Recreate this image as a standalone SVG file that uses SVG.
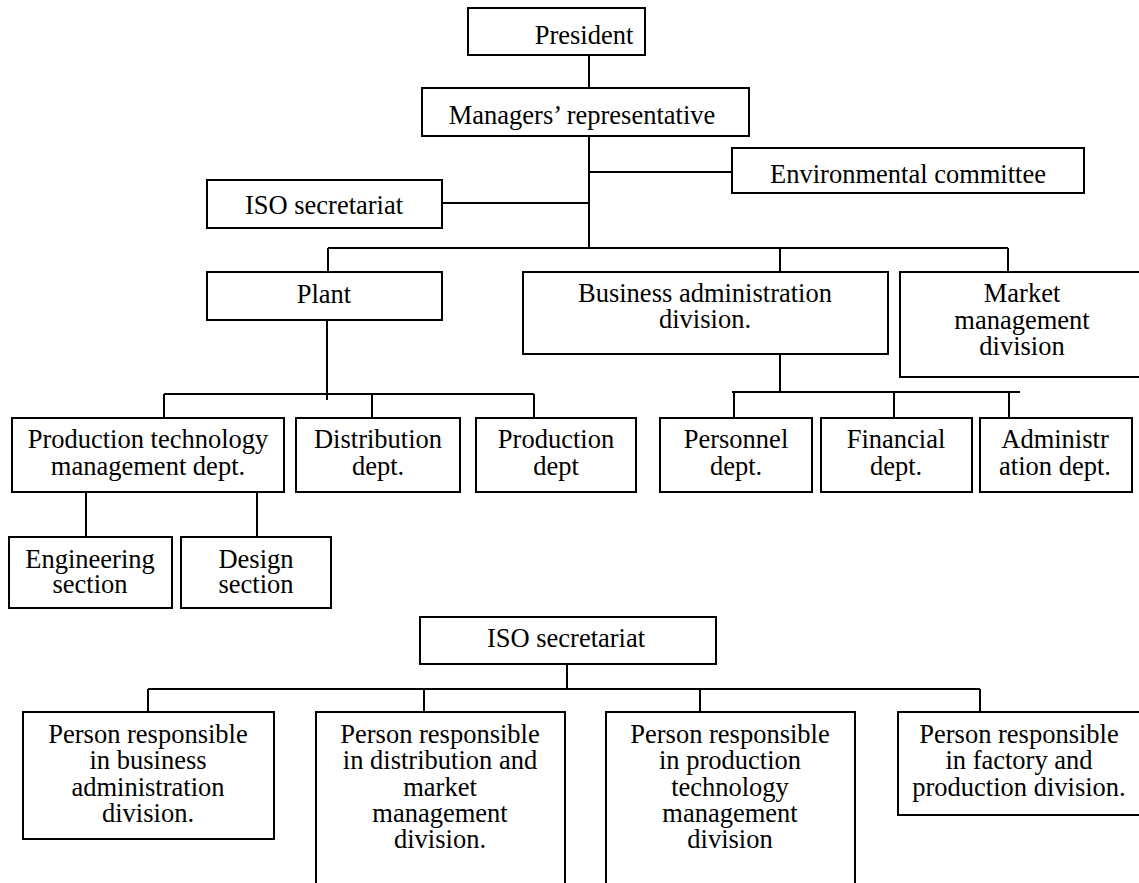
<svg xmlns="http://www.w3.org/2000/svg" width="1139" height="883" viewBox="0 0 1139 883">
<style>
rect{fill:#fff;stroke:#000;stroke-width:2}
.c line{stroke:#000;stroke-width:2;fill:none}
text{font-family:'Liberation Serif','DejaVu Serif',serif;font-size:26.5px;text-anchor:middle;fill:#000}
</style>
<rect x="0" y="0" width="1139" height="883" style="stroke:none"/>
<g class="c" id="connectors">
<line x1="589" y1="55" x2="589" y2="88"/>
<line x1="589" y1="136" x2="589" y2="248"/>
<line x1="589" y1="172" x2="732" y2="172"/>
<line x1="442" y1="203" x2="589" y2="203"/>
<line x1="328" y1="248" x2="1008" y2="248"/>
<line x1="328" y1="248" x2="328" y2="272"/>
<line x1="780" y1="248" x2="780" y2="272"/>
<line x1="1008" y1="248" x2="1008" y2="272"/>
<line x1="327" y1="320" x2="327" y2="400"/>
<line x1="164" y1="394" x2="534" y2="394"/>
<line x1="164" y1="394" x2="164" y2="418"/>
<line x1="372" y1="394" x2="372" y2="418"/>
<line x1="534" y1="394" x2="534" y2="418"/>
<line x1="86" y1="492" x2="86" y2="537"/>
<line x1="257" y1="492" x2="257" y2="537"/>
<line x1="780" y1="354" x2="780" y2="392"/>
<line x1="732" y1="392" x2="1020" y2="392"/>
<line x1="734" y1="392" x2="734" y2="418"/>
<line x1="894" y1="392" x2="894" y2="418"/>
<line x1="1009" y1="392" x2="1009" y2="418"/>
<line x1="567" y1="664" x2="567" y2="689"/>
<line x1="148" y1="689" x2="980" y2="689"/>
<line x1="148" y1="689" x2="148" y2="712"/>
<line x1="424" y1="689" x2="424" y2="712"/>
<line x1="700" y1="689" x2="700" y2="712"/>
<line x1="980" y1="689" x2="980" y2="712"/>
</g>
<g id="president"><rect x="468" y="8" width="177" height="47"/><text x="584" y="44">President</text></g>
<g id="managers"><rect x="422" y="88" width="327" height="48"/><text x="582" y="124">Managers’ representative</text></g>
<g id="env"><rect x="732" y="148" width="352" height="45"/><text x="908" y="183">Environmental committee</text></g>
<g id="iso-top"><rect x="207" y="180" width="235" height="48"/><text x="324" y="214">ISO secretariat</text></g>
<g id="plant"><rect x="207" y="272" width="235" height="48"/><text x="324" y="303">Plant</text></g>
<g id="business"><rect x="523" y="272" width="365" height="82"/><text x="705" y="302">Business administration</text><text x="705" y="328">division.</text></g>
<g id="market"><rect x="900" y="272" width="245" height="105"/><text x="1022" y="302">Market</text><text x="1022" y="329">management</text><text x="1022" y="355">division</text></g>
<g id="prodtech"><rect x="12" y="418" width="272" height="74"/><text x="148" y="448">Production technology</text><text x="148" y="475">management dept.</text></g>
<g id="distribution"><rect x="296" y="418" width="164" height="74"/><text x="378" y="448">Distribution</text><text x="378" y="475">dept.</text></g>
<g id="production"><rect x="476" y="418" width="160" height="74"/><text x="556" y="448">Production</text><text x="556" y="475">dept</text></g>
<g id="personnel"><rect x="660" y="418" width="152" height="74"/><text x="736" y="448">Personnel</text><text x="736" y="475">dept.</text></g>
<g id="financial"><rect x="821" y="418" width="151" height="74"/><text x="896" y="448">Financial</text><text x="896" y="475">dept.</text></g>
<g id="admin"><rect x="980" y="418" width="152" height="74"/><text x="1055" y="448">Administr</text><text x="1055" y="475">ation dept.</text></g>
<g id="engineering"><rect x="9" y="537" width="163" height="71"/><text x="90" y="568">Engineering</text><text x="90" y="593">section</text></g>
<g id="design"><rect x="181" y="537" width="150" height="71"/><text x="256" y="568">Design</text><text x="256" y="593">section</text></g>
<g id="iso-bottom"><rect x="420" y="617" width="296" height="47"/><text x="566" y="647">ISO secretariat</text></g>
<g id="p1"><rect x="23" y="712" width="251" height="127"/><text x="148" y="743">Person responsible</text><text x="148" y="769">in business</text><text x="148" y="796">administration</text><text x="148" y="822">division.</text></g>
<g id="p2"><rect x="316" y="712" width="249" height="200"/><text x="440" y="743">Person responsible</text><text x="440" y="769">in distribution and</text><text x="440" y="796">market</text><text x="440" y="822">management</text><text x="440" y="848">division.</text></g>
<g id="p3"><rect x="606" y="712" width="249" height="200"/><text x="730" y="743">Person responsible</text><text x="730" y="769">in production</text><text x="730" y="796">technology</text><text x="730" y="822">management</text><text x="730" y="848">division</text></g>
<g id="p4"><rect x="898" y="712" width="250" height="103"/><text x="1019" y="743">Person responsible</text><text x="1019" y="769">in factory and</text><text x="1019" y="796">production division.</text></g>
</svg>
